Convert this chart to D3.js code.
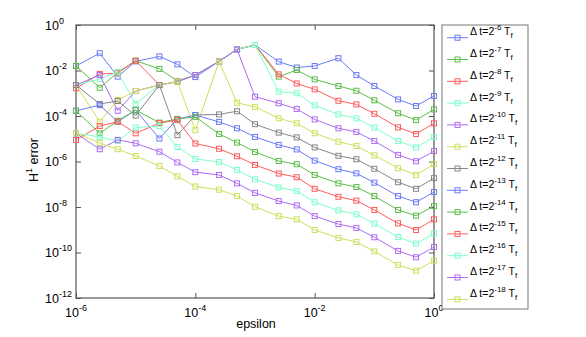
<!DOCTYPE html>
<html>
<head>
<meta charset="utf-8">
<script src="https://cdn.jsdelivr.net/npm/d3@7"></script>
<style>
  body { margin: 0; background: #fff; }
  text { font-family: "Liberation Sans", Arial, sans-serif; fill: #000; }
</style>
</head>
<body>
<div class="chart"></div>
<script>
//* DATA *//
// x axis: epsilon values
const epsilon = [1e-6, 2.5e-6, 5e-6, 1e-5, 2.5e-5, 5e-5, 1e-4, 2.5e-4, 5e-4, 1e-3,
  2.5e-3, 5e-3, 1e-2, 2.5e-2, 5e-2, 0.1, 0.25, 0.5, 1];
// time steps: delta t = 2^-k Tf
const dtExp = [6, 7, 8, 9, 10, 11, 12, 13, 14, 15, 16, 17, 18];
// log10 of the H1 error, one list per time step
const err6  = [-1.80, -1.24, -2.27, -1.60, -1.38, -1.73, -2.29, -1.60, -1.07, -0.88, -1.61, -1.87, -1.80, -1.46, -2.20, -2.68, -3.27, -3.56, -3.12];
const err7  = [-1.80, -2.76, -2.08, -1.57, -1.93, -2.46, -2.20, -1.60, -1.07, -0.88, -2.27, -1.98, -2.39, -2.68, -2.89, -3.31, -3.88, -4.18, -3.71];
const err8  = [-2.78, -2.15, -2.12, -1.57, -2.64, -2.49, -2.20, -1.60, -1.07, -0.88, -2.17, -2.57, -2.83, -3.33, -3.49, -3.90, -4.50, -4.79, -4.32];
const err9  = [-2.64, -2.37, -2.07, -3.47, -2.64, -2.49, -2.20, -1.60, -1.07, -0.88, -2.93, -3.00, -3.53, -3.93, -4.10, -4.51, -5.10, -5.38, -4.92];
const err10 = [-2.64, -2.20, -3.77, -2.90, -2.64, -2.49, -2.20, -1.60, -1.07, -3.15, -3.44, -3.69, -4.15, -4.54, -4.70, -5.10, -5.71, -5.99, -5.54];
const err11 = [-2.64, -4.25, -3.30, -2.90, -2.64, -2.49, -4.62, -1.60, -3.42, -3.60, -4.10, -4.32, -4.76, -5.13, -5.32, -5.73, -6.29, -6.59, -6.12];
const err12 = [-2.64, -3.47, -3.34, -3.98, -2.64, -4.84, -3.96, -3.93, -3.79, -4.36, -4.73, -4.94, -5.38, -5.75, -5.90, -6.32, -6.91, -7.20, -6.73];
const err13 = [-3.77, -3.52, -4.25, -3.74, -4.99, -4.13, -3.96, -4.26, -4.54, -4.92, -5.27, -5.47, -5.96, -6.34, -6.52, -6.93, -7.52, -7.79, -7.34];
const err14 = [-3.77, -4.76, -4.21, -3.74, -4.29, -4.13, -4.04, -4.79, -5.17, -5.58, -5.98, -6.12, -6.59, -6.96, -7.12, -7.52, -8.13, -8.38, -7.96];
const err15 = [-5.05, -4.44, -4.25, -4.76, -4.31, -4.18, -5.21, -5.44, -5.77, -6.15, -6.53, -6.69, -7.20, -7.55, -7.72, -8.13, -8.72, -9.01, -8.54];
const err16 = [-4.76, -4.92, -5.10, -4.51, -4.44, -5.36, -5.89, -6.02, -6.37, -6.78, -7.14, -7.30, -7.79, -8.15, -8.32, -8.73, -9.32, -9.61, -9.16];
const err17 = [-4.76, -5.46, -5.05, -5.20, -5.57, -6.04, -6.47, -6.59, -6.96, -7.38, -7.74, -7.93, -8.40, -8.75, -8.92, -9.33, -9.93, -10.21, -9.76];
const err18 = [-4.76, -5.19, -5.46, -5.76, -6.20, -6.65, -7.10, -7.24, -7.52, -7.99, -8.40, -8.54, -9.01, -9.36, -9.54, -9.95, -10.55, -10.80, -10.36];
// tick labels (powers of ten)
const xTickExp = [-6, -4, -2, 0];
const yTickExp = [0, -2, -4, -6, -8, -10, -12];

//* SETUP *//
const width = 586, height = 337;
const plot = { left: 76, right: 434, top: 25, bottom: 298 };
const colors = ['#6b7cf7', '#5cbd49', '#ff5c5c', '#7dffc9', '#ae6cf1', '#cee05c', '#878787'];

const allErr = [err6, err7, err8, err9, err10, err11, err12, err13, err14, err15, err16, err17, err18];
const series = dtExp.map((k, i) => ({
  k,
  color: colors[i % colors.length],
  points: epsilon.map((e, j) => ({ x: e, y: Math.pow(10, allErr[i][j]) }))
}));

const svg = d3.select('.chart').append('svg').attr('width', width).attr('height', height);

const x = d3.scaleLog().domain([1e-6, 1]).range([plot.left, plot.right]);
const y = d3.scaleLog().domain([1e-12, 1]).range([plot.bottom, plot.top]);

const xTicks = xTickExp.map((e) => Math.pow(10, e));
const yTicks = yTickExp.map((e) => Math.pow(10, e));

// ticks drawn inward on all four sides
const tickLen = 5;
const axisStyle = (g) => {
  g.select('.domain').remove();
  g.selectAll('.tick line').attr('stroke', '#555');
  g.selectAll('.tick text').remove();
};
svg.append('g').attr('transform', `translate(0,${plot.bottom})`)
  .call(d3.axisBottom(x).tickValues(xTicks).tickSize(-tickLen)).call(axisStyle);
svg.append('g').attr('transform', `translate(0,${plot.top})`)
  .call(d3.axisTop(x).tickValues(xTicks).tickSize(-tickLen)).call(axisStyle);
svg.append('g').attr('transform', `translate(${plot.left},0)`)
  .call(d3.axisLeft(y).tickValues(yTicks).tickSize(-tickLen)).call(axisStyle);
svg.append('g').attr('transform', `translate(${plot.right},0)`)
  .call(d3.axisRight(y).tickValues(yTicks).tickSize(-tickLen)).call(axisStyle);

// border of the plot
svg.append('rect')
  .attr('x', plot.left).attr('y', plot.top)
  .attr('width', plot.right - plot.left).attr('height', plot.bottom - plot.top)
  .attr('fill', 'none').attr('stroke', '#555').attr('stroke-width', 1.2);

// tick labels 10^n
const xLab = svg.append('g').selectAll('text').data(xTickExp).enter().append('text')
  .attr('x', (e) => x(Math.pow(10, e)))
  .attr('y', 317)
  .attr('text-anchor', 'middle')
  .attr('font-size', 12.5);
xLab.append('tspan').text('10');
xLab.append('tspan').attr('dy', -6).attr('font-size', 9).text((e) => e);

const yLab = svg.append('g').selectAll('text').data(yTickExp).enter().append('text')
  .attr('x', 45)
  .attr('y', (e) => y(Math.pow(10, e)) + 4.5)
  .attr('font-size', 12.5);
yLab.append('tspan').text('10');
yLab.append('tspan').attr('dy', -6).attr('font-size', 9).text((e) => e);

// axis titles
svg.append('text').attr('x', 256).attr('y', 328).attr('text-anchor', 'middle')
  .attr('font-size', 12.5).text('epsilon');
const yt = svg.append('text')
  .attr('transform', 'translate(38,160) rotate(-90)')
  .attr('text-anchor', 'middle').attr('font-size', 12.5);
yt.append('tspan').text('H');
yt.append('tspan').attr('dy', -6).attr('font-size', 9).text('1');
yt.append('tspan').attr('dy', 6).text(' error');

//* SERIES *//
const line = d3.line().x((d) => x(d.x)).y((d) => y(d.y));
const sq = 5;

const gSeries = svg.append('g').selectAll('g').data(series).enter().append('g');
gSeries.append('path')
  .attr('d', (d) => line(d.points))
  .attr('fill', 'none')
  .attr('stroke', (d) => d.color)
  .attr('stroke-width', 1);
gSeries.selectAll('rect').data((d) => d.points.map((p) => ({ ...p, color: d.color }))).enter().append('rect')
  .attr('x', (p) => x(p.x) - sq / 2)
  .attr('y', (p) => y(p.y) - sq / 2)
  .attr('width', sq).attr('height', sq)
  .attr('fill', 'none')
  .attr('stroke', (p) => p.color)
  .attr('stroke-width', 1);

//* LEGEND *//
const leg = { x: 442, y: 25, w: 86, h: 284, first: 37.7, step: 21.8 };
svg.append('rect')
  .attr('x', leg.x).attr('y', leg.y).attr('width', leg.w).attr('height', leg.h)
  .attr('fill', '#fff').attr('stroke', '#777').attr('stroke-width', 1);

const items = svg.append('g').selectAll('g').data(series).enter().append('g')
  .attr('transform', (d, i) => `translate(0,${leg.first + i * leg.step})`);
items.append('line')
  .attr('x1', 447).attr('x2', 468).attr('y1', 0).attr('y2', 0)
  .attr('stroke', (d) => d.color);
items.append('rect')
  .attr('x', 457.5 - sq / 2).attr('y', -sq / 2).attr('width', sq).attr('height', sq)
  .attr('fill', 'none').attr('stroke', (d) => d.color);
const lt = items.append('text').attr('x', 470).attr('y', -2.5).attr('font-size', 10.5);
lt.append('tspan').text('\u0394 t=2');
lt.append('tspan').attr('dy', -5).attr('font-size', 8).text((d) => '-' + d.k);
lt.append('tspan').attr('dy', 5).text(' T');
lt.append('tspan').attr('dy', 3).attr('font-size', 8).text('f');
</script>
</body>
</html>
